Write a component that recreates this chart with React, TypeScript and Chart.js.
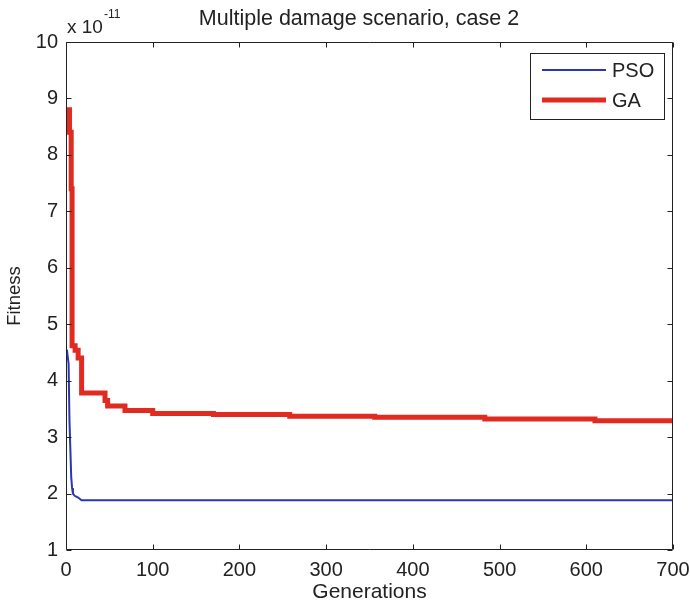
import { useEffect, useRef } from 'react';
import { Chart, registerables } from 'chart.js';

Chart.register(...registerables);

const titleText = 'Multiple damage scenario, case 2';
const xAxisLabel = 'Generations';
const yAxisLabel = 'Fitness';
const exponentBase = 'x 10';
const exponentPower = '-11';

const xTickValues = [0, 100, 200, 300, 400, 500, 600, 700];
const yTickValues = [1, 2, 3, 4, 5, 6, 7, 8, 9, 10];

const psoLabel = 'PSO';
const psoGenerations = [1, 3, 4, 5, 6, 7, 8, 10, 14, 18, 700];
const psoFitness = [4.55, 4.3, 3.3, 2.8, 2.3, 2.1, 2.0, 1.96, 1.93, 1.88, 1.88];

const gaLabel = 'GA';
const gaGenerations = [1, 4, 6, 7, 10.5, 14, 18, 45, 48, 68, 100, 170, 258, 356, 483, 610, 700];
const gaFitness = [8.8, 8.4, 7.4, 4.62, 4.54, 4.4, 3.78, 3.65, 3.55, 3.47, 3.42, 3.4, 3.37, 3.35, 3.32, 3.29, 3.28];

const FONT = '"Liberation Sans", Arial, Helvetica, sans-serif';
const TEXT_COLOR = '#222';

const matlabPlugin = {
  id: 'matlabFrame',
  afterDraw(chart: any) {
    const { ctx, chartArea: a, scales } = chart;
    const xs = scales.x;
    const ys = scales.y;
    const L = Math.round(a.left) + 0.5;
    const R = Math.round(a.right) - 0.5;
    const T = Math.round(a.top) + 0.5;
    const B = Math.round(a.bottom) - 0.5;
    ctx.save();
    ctx.strokeStyle = '#222';
    ctx.lineWidth = 1;
    ctx.beginPath();
    ctx.rect(L, T, R - L, B - T);
    ctx.stroke();
    const tl = 5;
    ctx.beginPath();
    xTickValues.forEach((v) => {
      const px = Math.round(xs.getPixelForValue(v)) + 0.5;
      ctx.moveTo(px, B);
      ctx.lineTo(px, B - tl);
      ctx.moveTo(px, T);
      ctx.lineTo(px, T + tl);
    });
    yTickValues.forEach((v) => {
      const py = Math.round(ys.getPixelForValue(v)) + 0.5;
      ctx.moveTo(L, py);
      ctx.lineTo(L + tl, py);
      ctx.moveTo(R, py);
      ctx.lineTo(R - tl, py);
    });
    ctx.stroke();

    // title
    ctx.fillStyle = TEXT_COLOR;
    ctx.font = `21.5px ${FONT}`;
    ctx.textAlign = 'center';
    ctx.textBaseline = 'middle';
    ctx.fillText(titleText, 359, 19);

    // exponent label
    ctx.textAlign = 'left';
    ctx.textBaseline = 'alphabetic';
    ctx.font = `19px ${FONT}`;
    ctx.fillText(exponentBase, 67, 33);
    const w = ctx.measureText(exponentBase).width;
    ctx.font = `12px ${FONT}`;
    ctx.fillText(exponentPower, 67 + w + 1, 18);

    // legend
    const lx = 530.5, ly = 53.5, lw = 134, lh = 66;
    ctx.fillStyle = '#fff';
    ctx.fillRect(lx, ly, lw, lh);
    ctx.strokeStyle = '#222';
    ctx.lineWidth = 1;
    ctx.strokeRect(lx, ly, lw, lh);
    const rows = [70, 100];
    chart.data.datasets.forEach((ds: any, i: number) => {
      const yy = rows[i];
      ctx.strokeStyle = ds.borderColor;
      ctx.lineWidth = ds.borderWidth;
      ctx.beginPath();
      ctx.moveTo(542, yy);
      ctx.lineTo(606, yy);
      ctx.stroke();
      ctx.fillStyle = TEXT_COLOR;
      ctx.font = `20px ${FONT}`;
      ctx.textAlign = 'left';
      ctx.textBaseline = 'middle';
      ctx.fillText(ds.label, 612, yy + 1);
    });
    ctx.restore();
  },
};

export default function App() {
  const canvasRef = useRef<HTMLCanvasElement | null>(null);

  useEffect(() => {
    document.body.style.margin = '0';
    const canvas = canvasRef.current;
    if (!canvas) return;
    const chart = new Chart(canvas, {
      type: 'line',
      data: {
        datasets: [
          {
            label: psoLabel,
            data: psoGenerations.map((g, i) => ({ x: g, y: psoFitness[i] })),
            borderColor: '#2a36b4',
            backgroundColor: '#2a36b4',
            borderWidth: 2,
            pointRadius: 0,
            tension: 0,
          },
          {
            label: gaLabel,
            data: gaGenerations.map((g, i) => ({ x: g, y: gaFitness[i] })),
            borderColor: '#e12a20',
            backgroundColor: '#e12a20',
            borderWidth: 5,
            pointRadius: 0,
            stepped: 'before',
          },
        ],
      },
      options: {
        responsive: false,
        animation: false,
        devicePixelRatio: 1,
        layout: { padding: { top: 42, right: 17, bottom: 0, left: 0 } },
        plugins: {
          legend: { display: false },
          title: { display: false },
          tooltip: { enabled: false },
        },
        scales: {
          x: {
            type: 'linear',
            min: 0,
            max: 700,
            grid: { display: false, drawTicks: false },
            border: { display: false },
            ticks: {
              stepSize: 100,
              maxRotation: 0,
              autoSkip: false,
              padding: 8,
              color: TEXT_COLOR,
              font: { size: 20, family: FONT },
            },
            title: {
              display: true,
              text: xAxisLabel,
              color: TEXT_COLOR,
              font: { size: 21, family: FONT, lineHeight: 1.2 },
              padding: { top: 0, bottom: 3.4 },
            },
            afterFit: (s: any) => {
              s.height = 58;
              s.paddingLeft = 0;
              s.paddingRight = 0;
            },
          },
          y: {
            type: 'linear',
            min: 1,
            max: 10,
            grid: { display: false, drawTicks: false },
            border: { display: false },
            ticks: {
              stepSize: 1,
              autoSkip: false,
              padding: 8,
              color: TEXT_COLOR,
              font: { size: 20, family: FONT },
            },
            title: {
              display: true,
              text: yAxisLabel,
              color: TEXT_COLOR,
              font: { size: 18.5, family: FONT, lineHeight: 1.2 },
              padding: { top: 4, bottom: 0 },
            },
            afterFit: (s: any) => {
              s.width = 66;
              s.paddingTop = 0;
              s.paddingBottom = 0;
            },
          },
        },
      },
      plugins: [matlabPlugin],
    });
    return () => chart.destroy();
  }, []);

  return (
    <div style={{ width: 690, height: 608 }}>
      <canvas ref={canvasRef} width={690} height={608} />
    </div>
  );
}
